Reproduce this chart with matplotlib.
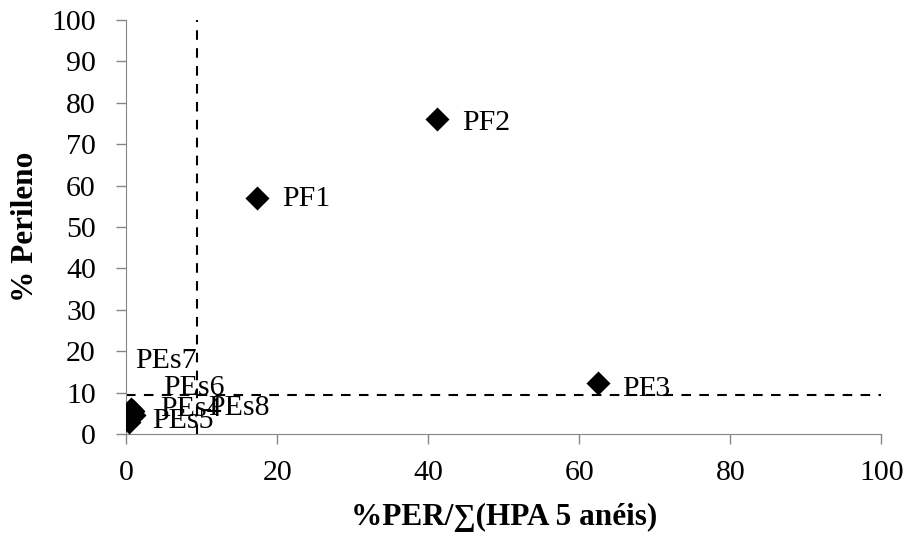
import matplotlib
matplotlib.use("Agg")
import matplotlib.pyplot as plt

plt.rcParams['font.family'] = ['Liberation Serif', 'DejaVu Serif']

# Sample values: % perylene ratio vs % perylene
names = ["PF1", "PF2", "PF3", "PEs4", "PEs5", "PEs6", "PEs7", "PEs8"]
x_vals = [17.35, 41.1, 62.5, 0.8, 0.3, 0.6, 0.2, 1.0]
y_vals = [57.1, 76.1, 12.3, 5.5, 3.0, 6.0, 5.0, 4.5]

# Label anchor positions (data coordinates, left edge / vertical centre)
label_x = [20.6, 44.4, 65.6, 4.4, 3.4, 4.8, 1.1, 10.8]
label_y = [56.8, 75.2, 10.9, 6.1, 3.2, 11.2, 17.7, 6.3]

# Reference thresholds
x_threshold = 9.4
y_threshold = 9.4

x_ticks = [0, 20, 40, 60, 80, 100]
y_ticks = list(range(0, 101, 10))

fig = plt.figure(figsize=(9.08, 5.34), dpi=100)
ax = fig.add_axes([0.1393, 0.1873, 0.8315, 0.7753])

ax.scatter(x_vals, y_vals, marker='D', s=150, color='black', zorder=3, linewidths=0)
for n, lx, ly in zip(names, label_x, label_y):
    ax.text(lx, ly, n, fontsize=21.5, ha='left', va='center', zorder=4)

dash = (0, (4.6, 4.0))
ax.axvline(x_threshold, color='black', linestyle=dash, linewidth=1.5, zorder=2)
ax.axhline(y_threshold, color='black', linestyle=dash, linewidth=1.5, zorder=2)

ax.set_xlim(0, 100)
ax.set_ylim(0, 100)
ax.set_xticks(x_ticks)
ax.set_yticks(y_ticks)
ax.tick_params(axis='both', labelsize=21.5, colors='#868686', labelcolor='black',
               direction='out', length=7, width=1)
ax.tick_params(axis='x', pad=12)
ax.tick_params(axis='y', pad=15)
for side in ['top', 'right']:
    ax.spines[side].set_visible(False)
for side in ['left', 'bottom']:
    ax.spines[side].set_color('#868686')

ax.set_xlabel("%PER/∑(HPA 5 anéis)", fontsize=22.5, fontweight='bold', labelpad=12)
ax.set_ylabel("% Perileno", fontsize=22.5, fontweight='bold', labelpad=8)

fig.savefig("out.png", dpi=100)
